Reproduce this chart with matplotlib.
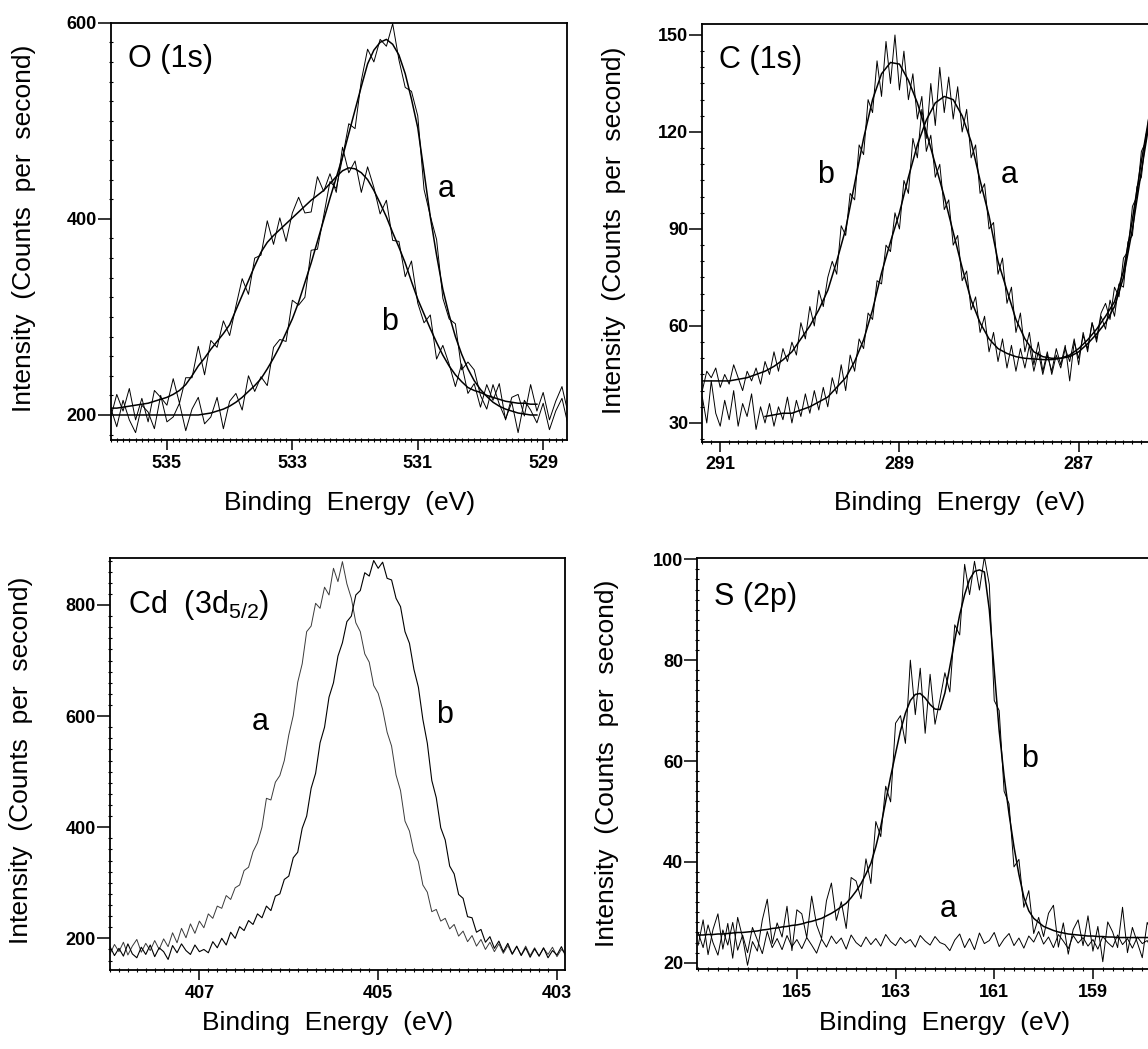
import numpy as np
import matplotlib
matplotlib.use("Agg")
import matplotlib.pyplot as plt
from matplotlib.ticker import MultipleLocator

W, H = 1148, 1049
plt.rcParams["font.family"] = ["Liberation Sans", "DejaVu Sans"]
plt.rcParams["mathtext.fontset"] = "custom"
plt.rcParams["mathtext.rm"] = "Liberation Sans"

# ---- O (1s) : raw spectra on a 0.1 eV grid, fits on 535.9 .. 529.1 ----
O_E = np.linspace(535.9, 528.6, 74)
O_A = [208, 188, 215, 195, 182, 210, 203, 186, 220, 193, 198, 212, 184, 206, 218, 191, 198, 218, 186, 214,
       222, 205, 240, 224, 239, 230, 269, 277, 275, 317, 312, 320, 368, 369, 403, 438, 431, 462, 497, 492,
       541, 573, 560, 583, 576, 599, 562, 534, 530, 505, 430, 403, 379, 319, 298, 293, 246, 254, 246, 220,
       206, 231, 211, 196, 213, 182, 215, 205, 192, 212, 185, 204, 217, 189]
O_B = [197, 221, 204, 227, 195, 217, 193, 225, 218, 210, 237, 212, 238, 238, 270, 241, 276, 269, 296, 281,
       311, 339, 323, 360, 363, 398, 374, 401, 377, 406, 422, 406, 407, 443, 428, 446, 427, 473, 447, 459,
       427, 453, 432, 405, 419, 378, 377, 341, 357, 314, 294, 302, 257, 271, 252, 229, 252, 222, 232, 208,
       231, 215, 232, 195, 218, 221, 199, 231, 204, 223, 195, 214, 229, 201]
O_FIT_E = np.linspace(535.9, 529.1, 69)
O_FIT_A = [200, 200, 200, 200, 200, 200, 200, 200, 200, 200, 200, 200, 200, 200, 200,
           201, 202, 204, 206, 209, 213, 218, 224, 230, 237, 247, 258, 270, 284, 298, 315, 335, 355, 377, 399,
           421, 442, 463, 487, 511, 535, 558, 572, 580, 583, 578, 567, 548, 522, 493, 448, 402, 363, 328, 302,
           280, 262, 247, 235, 226, 219, 213, 209, 206, 204, 202, 201, 200, 200]
O_FIT_B = [207, 207, 208, 209, 210, 211, 212, 214, 216, 218, 221, 225, 231, 240, 250, 258, 267, 275, 283, 292,
           307, 322, 337, 352, 366, 376, 383, 389, 395, 401, 407, 413, 419, 424, 429, 436, 443, 449, 452, 451,
           447, 440, 429, 416, 402, 386, 371, 355, 336, 318, 303, 288, 274, 261, 250, 241, 234, 228, 225, 223,
           220, 218, 216, 214, 213, 212, 212, 211, 211]

# ---- C (1s) ----
C_E = np.linspace(291.2, 286.2, 101)
C_A = [38, 30, 43, 33, 29, 37, 31, 40, 29, 36, 32, 39, 28, 35, 30, 36, 29, 35, 31, 38,
       30, 37, 32, 39, 33, 40, 34, 41, 35, 44, 39, 48, 40, 51, 46, 56, 53, 64, 62, 74,
       73, 85, 83, 95, 90, 105, 101, 118, 112, 127, 118, 135, 122, 140, 126, 137, 124, 134, 120, 127,
       112, 116, 101, 104, 90, 92, 76, 81, 67, 72, 58, 64, 52, 58, 48, 55, 46, 52, 45, 51,
       47, 53, 49, 56, 48, 58, 52, 61, 55, 63, 59, 68, 63, 73, 72, 86, 88, 103, 106, 119, 124]
C_B = [40, 46, 44, 47, 41, 45, 42, 48, 44, 40, 46, 43, 47, 42, 49, 45, 52, 46, 53, 49,
       55, 51, 61, 56, 66, 60, 71, 66, 75, 80, 76, 91, 88, 101, 99, 116, 113, 130, 126, 142,
       131, 148, 135, 150, 133, 145, 130, 138, 124, 131, 114, 119, 106, 110, 96, 99, 85, 88, 74, 77,
       65, 69, 58, 63, 52, 58, 49, 56, 47, 54, 46, 53, 47, 54, 46, 52, 45, 51, 46, 53,
       48, 54, 43, 55, 50, 57, 53, 61, 56, 64, 67, 62, 72, 69, 81, 83, 97, 100, 114, 117, 129]
C_FIT_A_E = np.linspace(290.5, 286.2, 44)
C_FIT_A = [32, 32.5, 33, 33, 34, 35, 36.5, 38, 41, 44, 49, 55.7, 65, 76.4, 86, 95, 106, 116, 123.7, 129,
           131, 130, 125, 117, 105, 94, 80, 71, 62, 56, 52, 50.5, 50, 50, 50.5, 52, 54.5, 57.5, 61, 66,
           75, 90, 108, 125]
C_FIT_B_E = np.linspace(291.2, 286.2, 51)
C_FIT_B = [43, 43, 43, 43, 43.5, 44, 45, 46, 47.5, 49.5, 52, 56, 60, 65, 71, 80, 90, 104, 118, 130,
           138, 141.5, 141, 136, 129, 120, 110, 100, 89, 78, 68, 61, 56, 53, 51.5, 50.5, 50, 49.8, 49.6, 49.6,
           50, 51, 53, 55.7, 59, 63, 67.5, 77, 93, 111, 127]

# ---- Cd (3d5/2) ----
CD_E = np.linspace(408.0, 402.9, 103)
CD_A = [172, 189, 176, 193, 170, 186, 198, 175, 191, 178, 196, 180, 199, 185, 210, 192, 218, 201, 226, 209,
        231, 219, 244, 236, 258, 254, 277, 270, 291, 296, 322, 328, 356, 372, 400, 452, 449, 481, 493, 520,
        566, 601, 661, 694, 752, 762, 803, 794, 832, 818, 866, 842, 878, 838, 812, 768, 752, 712, 697, 655,
        641, 612, 571, 546, 494, 466, 411, 393, 355, 338, 296, 283, 248, 252, 231, 236, 217, 225, 204, 213,
        194, 205, 186, 198, 180, 193, 176, 190, 173, 187, 171, 185, 170, 186, 169, 183, 168, 182, 171, 184,
        167, 180, 172]
CD_B = [185, 169, 182, 168, 190, 172, 165, 184, 171, 188, 167, 183, 176, 162, 187, 174, 190, 178, 171, 188,
        176, 180, 174, 194, 183, 200, 188, 211, 200, 221, 214, 232, 225, 244, 237, 258, 250, 276, 280, 306,
        312, 345, 355, 398, 420, 470, 497, 552, 580, 634, 660, 708, 732, 770, 780, 818, 826, 858, 852, 880,
        866, 877, 848, 845, 812, 797, 752, 731, 684, 652, 594, 551, 484, 453, 399, 377, 330, 316, 279, 272,
        239, 237, 211, 216, 193, 203, 182, 195, 176, 191, 172, 186, 169, 183, 166, 181, 168, 183, 165, 178,
        170, 185, 167]

# ---- S (2p) ----
S_E = np.linspace(167.0, 157.6, 95)
S_A = [26.0, 23.0, 27.5, 24.0, 21.5, 26.5, 23.5, 28.0, 22.5, 25.5, 22.0, 27.0, 24.5, 21.8, 26.2, 23.0,
       24.8, 22.6, 25.4, 23.2, 24.6, 22.8, 25.0, 23.5, 21.9, 24.7, 23.1, 25.3, 23.8, 24.9, 22.7, 25.5,
       24.0, 23.2, 25.1, 23.6, 24.8, 23.3, 25.6, 24.2, 23.4, 25.0, 23.9, 24.6, 23.1, 25.4, 24.3, 23.5,
       25.2, 24.0, 23.6, 22.4, 24.5, 25.7, 23.0, 24.8, 22.6, 25.9, 23.8, 24.4, 26.0, 23.2, 24.7, 25.8,
       23.4, 24.9, 22.9, 25.3, 24.1, 26.2, 23.7, 25.1, 23.0, 25.6, 24.3, 22.8, 25.4, 23.9, 25.0, 23.3,
       24.6, 22.7, 25.2, 24.0, 23.1, 25.5, 23.6, 24.8, 22.9, 25.1, 23.8, 24.4, 22.6, 25.0, 23.7]
S_B = [23.5, 28.5, 21.6, 26.6, 29.7, 22.7, 27.8, 20.9, 29.0, 25.0, 19.5, 24.2, 22.3, 28.5, 32.6, 23.8,
       27.9, 25.1, 31.2, 22.4, 30.5, 29.7, 25.0, 33.2, 27.5, 24.8, 32.3, 35.8, 28.4, 32.1, 26.8, 36.9,
       36.2, 32.7, 40.6, 35.7, 48.0, 45.0, 55.0, 51.9, 67.5, 69.0, 63.5, 80.0, 69.2, 78.4, 65.5, 77.2,
       67.3, 72.2, 77.5, 73.7, 87.0, 85.0, 99.0, 93.0, 99.6, 93.9, 100.5, 95.0, 72.0, 70.0, 54.0, 51.5,
       39.0, 40.5, 31.0, 34.3, 25.8, 29.0, 25.2, 29.8, 31.4, 23.1, 27.9, 21.7, 26.6, 28.5, 23.4, 29.3,
       22.3, 27.2, 20.2, 28.1, 26.1, 23.0, 31.0, 22.0, 27.0, 24.0, 21.0, 28.0, 26.0, 23.0, 29.0]
S_FIT_B = [25.5, 25.5, 25.6, 25.6, 25.7, 25.7, 25.8, 25.9, 26.0, 26.0, 26.1, 26.2, 26.3, 26.5, 26.6, 26.8,
           26.9, 27.1, 27.2, 27.4, 27.5, 27.7, 28.0, 28.2, 28.5, 28.8, 29.3, 29.8, 30.4, 31.1, 31.8, 32.9,
           34.2, 35.7, 37.6, 39.7, 43.0, 47.0, 52.0, 56.9, 61.5, 66.0, 69.5, 72.0, 73.2, 73.4, 72.5, 71.2,
           70.3, 70.2, 73.5, 78.7, 84.0, 89.0, 93.0, 96.0, 97.6, 97.9, 97.5, 90.0, 78.0, 66.0, 57.0, 49.5,
           43.0, 37.5, 33.0, 30.3, 28.8, 28.0, 27.2, 26.8, 26.4, 26.1, 25.9, 25.7, 25.6, 25.5, 25.4, 25.3,
           25.3, 25.2, 25.2, 25.1, 25.1, 25.0, 25.0, 25.0, 25.0, 25.0, 25.0, 25.0, 25.0, 25.0, 25.0]

YLABEL = "Intensity  (Counts  per  second)"
XLABEL = "Binding  Energy  (eV)"
RAW_LW = 0.7
FIT_LW = 1.1


def box(l, t, r, b):
    # pixel box -> figure fraction rect
    return [l / W, 1 - b / H, (r - l) / W, (b - t) / H]


def ftext(x, y, s, **kw):
    fig.text(x / W, 1 - y / H, s, **kw)


def style(ax, xlim, ylim, xt, yt, xminor, yminor):
    ax.set_xlim(*xlim)
    ax.set_ylim(*ylim)
    ax.set_xticks(xt)
    ax.set_yticks(yt)
    ax.xaxis.set_minor_locator(MultipleLocator(xminor))
    ax.yaxis.set_minor_locator(MultipleLocator(yminor))
    ax.tick_params(axis="x", which="major", direction="out", length=7, width=1.1, pad=3.5, labelsize=13)
    ax.tick_params(axis="y", which="major", direction="out", length=9.5, width=1.1, pad=0.5, labelsize=13)
    ax.tick_params(which="minor", direction="inout", length=3, width=0.8)
    for lb in ax.get_xticklabels() + ax.get_yticklabels():
        lb.set_fontweight("bold")
    for s in ax.spines.values():
        s.set_linewidth(1.3)


fig = plt.figure(figsize=(W / 100, H / 100), dpi=100)

# O (1s)
ax1 = fig.add_axes(box(110.5, 22.7, 567, 440))
ax1.plot(O_E, O_A, color="k", lw=RAW_LW)
ax1.plot(O_E, O_B, color="k", lw=RAW_LW)
ax1.plot(O_FIT_E, O_FIT_A, color="k", lw=FIT_LW)
ax1.plot(O_FIT_E, O_FIT_B, color="k", lw=FIT_LW)
style(ax1, (535.9, 528.62), (174.5, 600), [535, 533, 531, 529], [200, 400, 600], 0.1, 20)

# C (1s) - panel runs past the right edge of the picture
ax2 = fig.add_axes(box(702.3, 24, 1162, 441.7))
ax2.plot(C_E, C_A, color="k", lw=RAW_LW)
ax2.plot(C_E, C_B, color="k", lw=RAW_LW)
ax2.plot(C_FIT_A_E, C_FIT_A, color="k", lw=FIT_LW)
ax2.plot(C_FIT_B_E, C_FIT_B, color="k", lw=FIT_LW)
style(ax2, (291.2, 286.07), (24.2, 153.4), [291, 289, 287], [30, 60, 90, 120, 150], 0.1, 5)

# Cd (3d5/2)
ax3 = fig.add_axes(box(110, 558.3, 565, 970))
ax3.plot(CD_E, CD_A, color="#3a3a3a", lw=RAW_LW)
ax3.plot(CD_E, CD_B, color="k", lw=0.8)
style(ax3, (408.0, 402.91), (143, 884), [407, 405, 403], [200, 400, 600, 800], 0.1, 20)

# S (2p)
ax4 = fig.add_axes(box(697.2, 558.3, 1162, 969.3))
ax4.plot(S_E, S_A, color="k", lw=RAW_LW)
ax4.plot(S_E, S_B, color="k", lw=RAW_LW)
ax4.plot(S_E, S_FIT_B, color="k", lw=FIT_LW)
style(ax4, (167.02, 157.6), (18.7, 100.2), [165, 163, 161, 159], [20, 40, 60, 80, 100], 0.2, 2)

big = dict(fontsize=22, va="baseline")
ftext(128, 67, "O (1s)", ha="left", **big)
ftext(446, 197, "a", ha="center", **big)
ftext(390, 330, "b", ha="center", **big)
ftext(719, 68, "C (1s)", ha="left", **big)
ftext(826, 183, "b", ha="center", **big)
ftext(1009, 183, "a", ha="center", **big)
ftext(128, 613, r"Cd  (3d$_{\mathregular{5/2}}$)", ha="left", **big)
ftext(260, 730, "a", ha="center", **big)
ftext(445, 723, "b", ha="center", **big)
ftext(714, 605, "S (2p)", ha="left", **big)
ftext(1030, 767, "b", ha="center", **big)
ftext(948, 917, "a", ha="center", **big)

lab = dict(fontsize=19, ha="center", va="center")
ftext(24, 228, YLABEL, rotation=90, **lab)
ftext(614, 230, YLABEL, rotation=90, **lab)
ftext(21, 760, YLABEL, rotation=90, **lab)
ftext(607, 763, YLABEL, rotation=90, **lab)
ftext(350, 503, XLABEL, **lab)
ftext(960, 503, XLABEL, **lab)
ftext(328, 1023, XLABEL, **lab)
ftext(945, 1023, XLABEL, **lab)

fig.savefig("out.png", dpi=100)
